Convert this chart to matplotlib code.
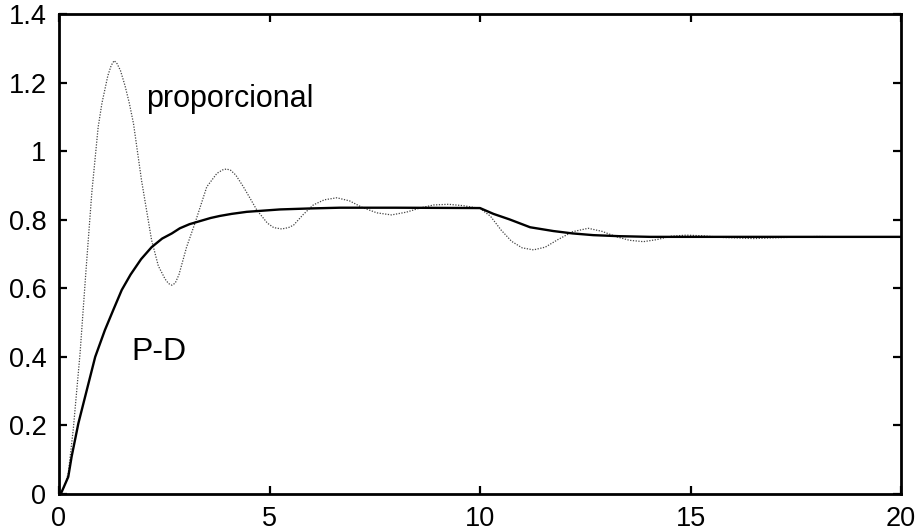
import matplotlib
matplotlib.use("Agg")
import matplotlib.pyplot as plt

plt.rcParams['font.family'] = ['Liberation Sans', 'DejaVu Sans']

# Proportional controller response (dotted)
t_prop = [0.0, 0.12, 0.22, 0.34, 0.50, 0.64, 0.78, 0.93, 1.02, 1.09, 1.16, 1.24,
          1.31, 1.38, 1.46, 1.57, 1.67, 1.77, 1.96, 2.20, 2.36, 2.52, 2.60, 2.68,
          2.76, 2.85, 3.03, 3.23, 3.51, 3.75, 3.88, 3.98, 4.08, 4.20, 4.38, 4.55,
          4.70, 4.95, 5.10, 5.29, 5.45, 5.57, 5.80, 6.04, 6.30, 6.60, 6.90, 7.20,
          7.55, 7.90, 8.25, 8.60, 8.90, 9.25, 9.60, 10.0, 10.25, 10.50, 10.75, 11.0,
          11.27, 11.55, 11.85, 12.2, 12.57, 12.9, 13.25, 13.55, 13.88, 14.2, 14.55,
          14.9, 15.3, 15.8, 16.5, 17.2, 18.0, 19.0, 20.0]
y_prop = [0.0, 0.02, 0.06, 0.19, 0.41, 0.65, 0.88, 1.07, 1.14, 1.18, 1.22, 1.25,
          1.264, 1.255, 1.235, 1.19, 1.14, 1.08, 0.915, 0.74, 0.665, 0.627, 0.614, 0.609,
          0.615, 0.64, 0.72, 0.79, 0.896, 0.935, 0.945, 0.948, 0.944, 0.93, 0.896, 0.86,
          0.828, 0.79, 0.777, 0.773, 0.777, 0.784, 0.815, 0.843, 0.858, 0.864, 0.855, 0.836,
          0.82, 0.814, 0.822, 0.835, 0.843, 0.845, 0.841, 0.833, 0.81, 0.77, 0.737, 0.718,
          0.712, 0.72, 0.742, 0.765, 0.775, 0.766, 0.75, 0.74, 0.736, 0.742, 0.752,
          0.755, 0.753, 0.748, 0.745, 0.748, 0.751, 0.75, 0.75]

# P-D controller response (solid)
t_pd = [0.0, 0.06, 0.22, 0.30, 0.46, 0.66, 0.86, 1.09, 1.29, 1.49, 1.70, 1.95,
        2.20, 2.45, 2.68, 2.87, 3.10, 3.35, 3.60, 3.82, 4.10, 4.46, 4.80, 5.25,
        6.0, 6.67, 8.0, 10.0, 10.15, 10.32, 10.70, 11.19, 11.74, 12.2, 12.69, 13.3,
        14.04, 20.0]
y_pd = [0.0, 0.005, 0.05, 0.109, 0.206, 0.303, 0.40, 0.478, 0.537, 0.595, 0.64, 0.685,
        0.72, 0.745, 0.76, 0.775, 0.787, 0.796, 0.805, 0.811, 0.817, 0.823, 0.826, 0.830,
        0.833, 0.835, 0.835, 0.834, 0.826, 0.817, 0.801, 0.778, 0.767, 0.76, 0.755, 0.752,
        0.750, 0.750]

xticks = [0, 5, 10, 15, 20]
yticks = [0, 0.2, 0.4, 0.6, 0.8, 1.0, 1.2, 1.4]
ytick_labels = ['0', '0.2', '0.4', '0.6', '0.8', '1', '1.2', '1.4']

fig = plt.figure(figsize=(9.18, 5.31), dpi=100)
ax = fig.add_axes([59/918, 1-494/531, (901-59)/918, (494-14)/531])

ax.plot(t_prop, y_prop, linestyle=(0, (1, 1.2)), color='#444444', linewidth=0.9)
ax.plot(t_pd, y_pd, color='black', linewidth=1.7)

ax.set_xlim(0, 20)
ax.set_ylim(0, 1.4)
ax.set_xticks(xticks)
ax.set_xticklabels([str(v) for v in xticks])
ax.set_yticks(yticks)
ax.set_yticklabels(ytick_labels)

for s in ax.spines.values():
    s.set_linewidth(2.0)
ax.tick_params(direction='in', length=6, width=1.6, labelsize=19.5,
               top=True, right=True)
ax.tick_params(axis='x', pad=9)
ax.tick_params(axis='y', pad=9)

ax.text(2.07, 1.13, 'proporcional', fontsize=22, ha='left', va='baseline')
ax.text(1.72, 0.39, 'P-D', fontsize=23, ha='left', va='baseline')

fig.savefig('out.png', dpi=100)
